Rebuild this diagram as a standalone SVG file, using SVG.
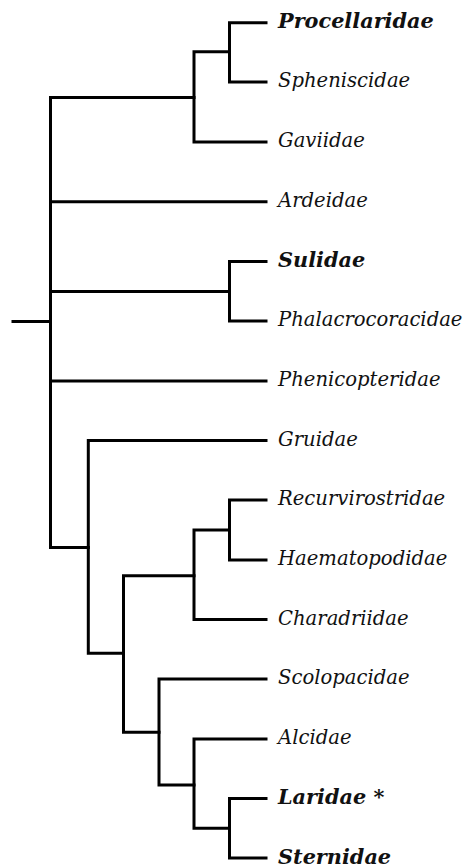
<svg xmlns="http://www.w3.org/2000/svg" width="470" height="868" viewBox="0 0 470 868">
<style>
.c{fill:none;stroke:#000;stroke-width:3;stroke-linecap:square;stroke-linejoin:miter}
.t{font-family:"DejaVu Serif","Liberation Serif",serif;font-style:italic;font-size:19.6px;fill:#111}
.b{font-weight:bold;font-size:20.8px}
</style>
<rect width="470" height="868" fill="#fff"/>
<g id="connectors" class="c">
<path d="M13,321.5H50.5"/>
<path d="M50.5,97.5V547.5"/>
<path d="M50.5,97.5H194"/>
<path d="M50.5,201.7H266"/>
<path d="M50.5,291.5H229.5"/>
<path d="M50.5,381H266"/>
<path d="M50.5,547.5H88.3"/>
<path d="M194,51.7V142H266M194,51.7H229.5"/>
<path d="M266,22.7H229.5V82H266"/>
<path d="M266,261.5H229.5V321H266"/>
<path d="M266,440.5H88.3V653.3H123.5"/>
<path d="M194,575.7H123.5V732.3H159"/>
<path d="M229.5,530H194V619.5H266"/>
<path d="M266,500H229.5V560H266"/>
<path d="M266,679H159V785H194"/>
<path d="M266,739H194V828.3H229.5"/>
<path d="M266,798.5H229.5V858H266"/>
</g>
<g id="n-procellaridae"><text class="t b" x="278" y="28">Procellaridae</text></g>
<g id="n-spheniscidae"><text class="t" x="278" y="87">Spheniscidae</text></g>
<g id="n-gaviidae"><text class="t" x="278" y="147">Gaviidae</text></g>
<g id="n-ardeidae"><text class="t" x="278" y="206.5">Ardeidae</text></g>
<g id="n-sulidae"><text class="t b" x="278" y="267">Sulidae</text></g>
<g id="n-phalacrocoracidae"><text class="t" x="278" y="326">Phalacrocoracidae</text></g>
<g id="n-phenicopteridae"><text class="t" x="278" y="386">Phenicopteridae</text></g>
<g id="n-gruidae"><text class="t" x="278" y="445.5">Gruidae</text></g>
<g id="n-recurvirostridae"><text class="t" x="278" y="505">Recurvirostridae</text></g>
<g id="n-haematopodidae"><text class="t" x="278" y="565">Haematopodidae</text></g>
<g id="n-charadriidae"><text class="t" x="278" y="624.5">Charadriidae</text></g>
<g id="n-scolopacidae"><text class="t" x="278" y="684">Scolopacidae</text></g>
<g id="n-alcidae"><text class="t" x="278" y="744">Alcidae</text></g>
<g id="n-laridae"><text class="t b" x="278" y="804">Laridae *</text></g>
<g id="n-sternidae"><text class="t b" x="278" y="863.5">Sternidae</text></g>
</svg>
